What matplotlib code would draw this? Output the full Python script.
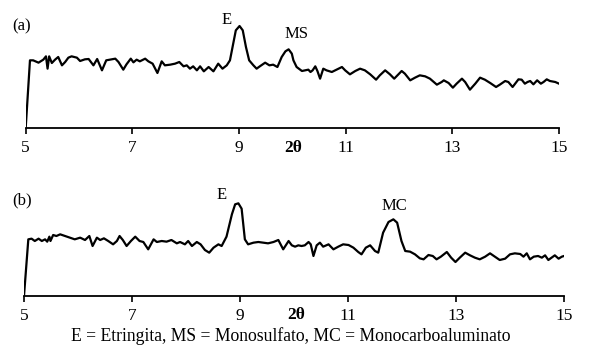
import matplotlib
matplotlib.use("Agg")
import matplotlib.pyplot as plt

plt.rcParams['font.family'] = ['Liberation Serif', 'DejaVu Serif']

# Panel (a) diffractogram (2theta, intensity in arbitrary units)
two_theta_a = [5.00, 5.08, 5.14, 5.24, 5.33, 5.38, 5.41, 5.44, 5.49, 5.55, 5.61, 5.68, 5.74, 5.80,
               5.86, 5.96, 6.02, 6.11, 6.18, 6.27, 6.34, 6.43, 6.51, 6.58, 6.68, 6.74, 6.83, 6.89,
               6.97, 7.02, 7.08, 7.14, 7.24, 7.30, 7.38, 7.47, 7.55, 7.61, 7.71, 7.80, 7.88, 7.96,
               8.02, 8.08, 8.14, 8.21, 8.27, 8.34, 8.43, 8.52, 8.61, 8.69, 8.77, 8.83, 8.89, 8.94,
               9.01, 9.07, 9.13, 9.19, 9.27, 9.33, 9.39, 9.49, 9.57, 9.64, 9.72, 9.80, 9.87, 9.93,
               9.99, 10.02, 10.08, 10.18, 10.24, 10.30, 10.34, 10.38, 10.43, 10.47, 10.52, 10.58,
               10.64, 10.74, 10.83, 10.93, 10.99, 11.08, 11.18, 11.27, 11.36, 11.46, 11.57, 11.64,
               11.74, 11.83, 11.91, 11.99, 12.05, 12.11, 12.21, 12.30, 12.39, 12.49, 12.58, 12.71,
               12.80, 12.84, 12.93, 13.01, 13.08, 13.18, 13.24, 13.33, 13.43, 13.52, 13.61, 13.71,
               13.82, 13.89, 13.99, 14.05, 14.13, 14.24, 14.30, 14.36, 14.41, 14.46, 14.52, 14.59,
               14.66, 14.71, 14.77, 14.83, 14.93, 15.00]
intensity_a = [0, 203, 203, 196, 205, 215, 178, 215, 195, 205, 213, 188, 198, 211,
               215, 211, 201, 206, 207, 188, 207, 173, 203, 205, 208, 198, 175, 191,
               208, 197, 205, 200, 208, 200, 193, 165, 200, 188, 190, 193, 198, 185,
               188, 178, 185, 173, 185, 170, 183, 170, 193, 178, 188, 203, 253, 293,
               306, 293, 243, 203, 188, 178, 185, 196, 188, 190, 183, 213, 230, 236,
               223, 203, 183, 171, 173, 175, 168, 173, 185, 171, 148, 178,
               173, 168, 175, 183, 173, 161, 171, 178, 173, 161, 145, 158,
               173, 161, 148, 161, 171, 163, 143, 151, 158, 155, 148, 130,
               138, 143, 135, 121, 133, 148, 138, 115, 133, 151, 145, 135,
               123, 130, 141, 138, 123, 146, 145, 133, 138, 141, 131, 143,
               133, 138, 146, 141, 138, 133]

# Panel (b) diffractogram
two_theta_b = [5.00, 5.08, 5.14, 5.20, 5.27, 5.33, 5.39, 5.43, 5.47, 5.49, 5.54, 5.60, 5.67, 5.76,
               5.85, 5.94, 6.04, 6.13, 6.21, 6.27, 6.35, 6.41, 6.48, 6.56, 6.65, 6.72, 6.77, 6.83,
               6.90, 6.98, 7.06, 7.14, 7.21, 7.30, 7.40, 7.46, 7.55, 7.64, 7.73, 7.83, 7.89, 7.98,
               8.04, 8.11, 8.20, 8.27, 8.35, 8.43, 8.51, 8.60, 8.66, 8.75, 8.85, 8.91, 8.97, 9.03,
               9.09, 9.15, 9.25, 9.34, 9.43, 9.52, 9.62, 9.71, 9.80, 9.90, 9.96, 10.02, 10.08,
               10.14, 10.20, 10.27, 10.31, 10.36, 10.42, 10.48, 10.54, 10.64, 10.73, 10.82, 10.91,
               11.01, 11.10, 11.19, 11.25, 11.33, 11.41, 11.50, 11.56, 11.65, 11.75, 11.84, 11.91,
               11.99, 12.06, 12.15, 12.24, 12.33, 12.40, 12.49, 12.57, 12.64, 12.72, 12.83, 12.91,
               12.99, 13.07, 13.17, 13.26, 13.35, 13.44, 13.54, 13.63, 13.72, 13.81, 13.91, 14.00,
               14.09, 14.19, 14.25, 14.31, 14.37, 14.44, 14.52, 14.59, 14.65, 14.71, 14.77, 14.83,
               14.90, 14.96, 15.00]
intensity_b = [0, 170, 172, 165, 172, 165, 170, 163, 178, 165, 183, 180, 185, 180,
               175, 170, 175, 168, 180, 150, 175, 168, 173, 165, 155, 165, 180, 168,
               150, 165, 178, 165, 162, 140, 170, 162, 165, 163, 168, 158, 162, 155,
               165, 150, 162, 155, 138, 130, 145, 155, 150, 178, 245, 275, 278, 262,
               170, 155, 160, 162, 160, 158, 162, 168, 140, 165, 152, 148, 152,
               150, 152, 162, 155, 120, 152, 160, 148, 155, 140, 148, 155,
               153, 145, 132, 125, 145, 152, 135, 130, 190, 222, 230, 220,
               165, 135, 133, 125, 113, 110, 123, 120, 110, 118, 132, 115,
               102, 115, 130, 122, 115, 110, 118, 128, 118, 108, 112, 125,
               128, 126, 118, 128, 110, 118, 120, 115, 122, 108, 115, 122,
               112, 118, 120]

xticks = [5, 7, 9, 11, 13, 15]
W, H = 589, 352

fig = plt.figure(figsize=(W / 100, H / 100), dpi=100)


def make_panel(rect, xs, ys, ytop):
    ax = fig.add_axes(rect)
    ax.plot(xs, ys, color='black', lw=1.6, solid_joinstyle='round')
    ax.set_xlim(5, 15)
    ax.set_ylim(0, ytop)
    for s in ['top', 'right', 'left']:
        ax.spines[s].set_visible(False)
    ax.spines['bottom'].set_linewidth(1.3)
    ax.set_yticks([])
    ax.set_xticks(xticks)
    ax.set_xticklabels([str(t) for t in xticks], fontsize=12.5)
    ax.tick_params(axis='x', direction='out', length=4, width=1.2, pad=5)
    return ax


def fx(px):
    return px / W


def fy(py):
    return 1 - py / H


ax_a = make_panel([fx(25.7), fy(128), fx(533.3), (128 - 10) / H],
                  two_theta_a, intensity_a, (128 - 10) * 3)
ax_b = make_panel([fx(24), fy(296), fx(540), (296 - 190) / H],
                  two_theta_b, intensity_b, (296 - 190) * 3)

fig.text(fx(12), fy(26), '(a)', fontsize=12, va='center')
fig.text(fx(12), fy(200), '(b)', fontsize=12, va='center')
fig.text(fx(227), fy(20), 'E', fontsize=12, ha='center', va='center')
fig.text(fx(297), fy(34), 'MS', fontsize=12, ha='center', va='center')
fig.text(fx(222), fy(195), 'E', fontsize=12, ha='center', va='center')
fig.text(fx(394), fy(206), 'MC', fontsize=12, ha='center', va='center')
fig.text(fx(293), fy(148), '2θ', fontsize=12.5, fontweight='bold', ha='center', va='center')
fig.text(fx(296), fy(315), '2θ', fontsize=12.5, fontweight='bold', ha='center', va='center')
fig.text(fx(291), fy(336), 'E = Etringita, MS = Monosulfato, MC = Monocarboaluminato',
         fontsize=12.7, ha='center', va='center')

fig.savefig('out.png', dpi=100)
